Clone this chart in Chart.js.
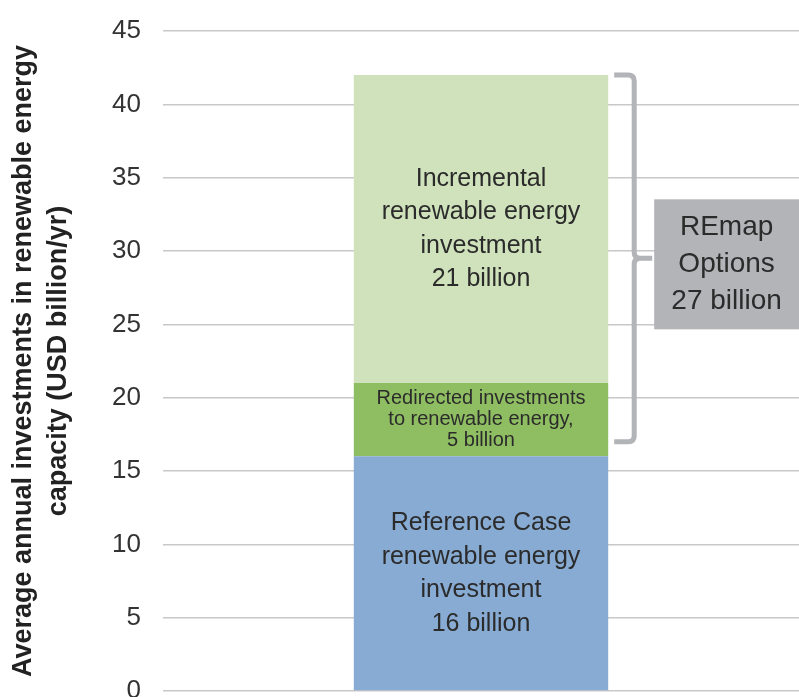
<!DOCTYPE html>
<html>
<head>
<meta charset="utf-8">
<script src="https://cdn.jsdelivr.net/npm/chart.js@4/dist/chart.umd.min.js"></script>
<style>
  html, body { margin: 0; padding: 0; background: #fff; }
  #wrap { width: 799px; height: 697px; }
</style>
</head>
<body>
<div id="wrap"><canvas id="c"></canvas></div>
<script>
// data
var categories = [""];
var referenceCase = [16];
var redirected = [5];
var incremental = [21];
var segmentNames = ["Reference Case", "Redirected", "Incremental"];
var segmentLabels = [
  ["Reference Case", "renewable energy", "investment", "16 billion"],
  ["Redirected investments", "to renewable energy,", "5 billion"],
  ["Incremental", "renewable energy", "investment", "21 billion"]
];
var bracketRange = [17, 42];
var boxLabel = ["REmap", "Options", "27 billion"];
var yTicks = [0, 5, 10, 15, 20, 25, 30, 35, 40, 45];

var FONT = "'Liberation Sans', Arial, sans-serif";

// labels inside the bar + bracket + grey box
var annotations = {
  id: 'annotations',
  afterDatasetsDraw: function(chart) {
    var ctx = chart.ctx;
    var y = chart.scales.y;
    ctx.save();
    ctx.fillStyle = '#2b2b2b';
    ctx.textAlign = 'center';
    ctx.textBaseline = 'middle';
    var base = 0;
    var barRight = 0;
    chart.data.datasets.forEach(function(ds, i) {
      var bar = chart.getDatasetMeta(i).data[0];
      barRight = bar.x + bar.width / 2;
      var v = ds.data[0];
      var mid = y.getPixelForValue(base + v / 2);
      var lines = segmentLabels[i];
      var small = v < 8;
      var lh = small ? 21 : 33.5;
      ctx.font = (small ? 20 : 25) + 'px ' + FONT;
      var start = mid - (lines.length - 1) * lh / 2;
      lines.forEach(function(t, k) {
        ctx.fillText(t, bar.x, start + k * lh);
      });
      base += v;
    });

    // bracket
    var top = y.getPixelForValue(bracketRange[1]);
    var bot = y.getPixelForValue(bracketRange[0]);
    var mid = (top + bot) / 2;
    var x0 = barRight + 6, x1 = barRight + 26, x2 = barRight + 44;
    var r = 6;
    ctx.strokeStyle = '#b3b4b8';
    ctx.lineWidth = 5;
    ctx.beginPath();
    ctx.moveTo(x0, top);
    ctx.lineTo(x1 - r, top);
    ctx.quadraticCurveTo(x1, top, x1, top + r);
    ctx.lineTo(x1, mid - r);
    ctx.quadraticCurveTo(x1, mid, x1 + r, mid);
    ctx.lineTo(x2, mid);
    ctx.moveTo(x1 + r, mid);
    ctx.quadraticCurveTo(x1, mid, x1, mid + r);
    ctx.lineTo(x1, bot - r);
    ctx.quadraticCurveTo(x1, bot, x1 - r, bot);
    ctx.lineTo(x0, bot);
    ctx.stroke();

    // grey box
    var bx = x2 + 2, bw = chart.width - bx, bh = 130;
    ctx.fillStyle = '#b3b4b8';
    ctx.fillRect(bx, mid - bh / 2 + 6, bw, bh);
    ctx.fillStyle = '#2b2b2b';
    ctx.font = '28px ' + FONT;
    boxLabel.forEach(function(t, k) {
      ctx.fillText(t, bx + bw / 2, mid + 6 + (k - 1) * 37);
    });
    ctx.restore();
  }
};

new Chart(document.getElementById("c"), {
  type: 'bar',
  data: {
    labels: categories,
    datasets: [
      { label: segmentNames[0], data: referenceCase, backgroundColor: "#87abd3" },
      { label: segmentNames[1], data: redirected, backgroundColor: "#8fbd62" },
      { label: segmentNames[2], data: incremental, backgroundColor: "#cfe2bb" }
    ]
  },
  options: {
    responsive: true,
    maintainAspectRatio: false,
    animation: false,
    layout: { padding: { top: 31, bottom: 6, left: 0, right: 0 } },
    datasets: { bar: { barPercentage: 0.4, categoryPercentage: 1 } },
    plugins: {
      legend: { display: false },
      tooltip: { enabled: false }
    },
    scales: {
      x: {
        stacked: true,
        display: false
      },
      y: {
        stacked: true,
        min: 0,
        max: 45,
        afterBuildTicks: function(scale) {
          scale.ticks = yTicks.map(function(v) { return { value: v }; });
        },
        afterFit: function(scale) {
          scale.width = 163;
          scale.paddingTop = 0;
          scale.paddingBottom = 0;
        },
        border: { display: false },
        grid: { color: '#c8c8c8', lineWidth: 1.5, drawTicks: false },
        ticks: {
          color: '#333',
          padding: 22,
          font: { family: FONT, size: 26 }
        },
        title: {
          display: true,
          text: ["Average annual investments in renewable energy", "capacity (USD billion/yr)"],
          color: '#222',
          font: { family: FONT, size: 27, weight: 'bold', lineHeight: 1.3 },
          padding: { top: 6, bottom: 0 }
        }
      }
    }
  },
  plugins: [annotations]
});
</script>
</body>
</html>
